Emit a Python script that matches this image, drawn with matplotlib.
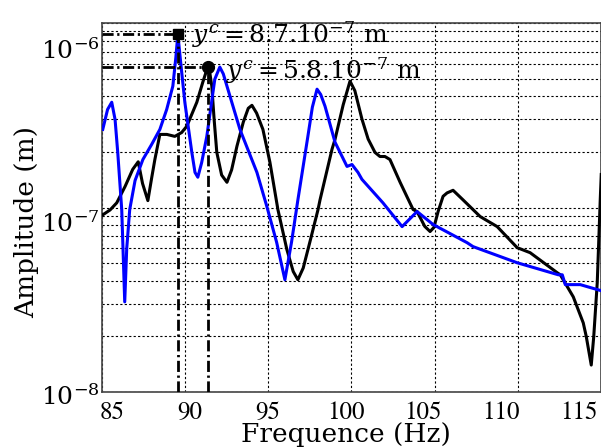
import matplotlib
matplotlib.use('Agg')
import matplotlib.pyplot as plt
from matplotlib.ticker import LogLocator, FixedLocator, NullFormatter, NullLocator

plt.rcParams['font.family'] = ['DejaVu Serif']
plt.rcParams['mathtext.fontset'] = 'stix'

# Black curve
freq_black = [85.0, 85.5, 85.9, 86.4, 86.86, 87.19, 87.45, 87.77, 88.0, 88.19, 88.49, 88.91,
              89.39, 89.8, 90.11, 90.71, 91.07, 91.37, 91.5, 91.61, 91.75, 91.91, 92.2,
              92.52, 92.8, 93.12, 93.5, 93.8, 94.02, 94.3, 94.68, 95.10, 95.58, 96.12,
              96.5, 96.78, 97.1, 97.5, 97.99, 98.11, 98.83, 99.01, 99.5, 99.91, 100.2,
              100.63, 101.0, 101.41, 101.71, 102.01, 102.31, 102.92, 103.70, 103.94,
              104.4, 104.72, 104.95, 105.2, 105.5, 105.74, 106.10, 106.70, 107.73,
              108.75, 109.95, 110.73, 112.36, 112.54, 113.32, 113.92, 114.1, 114.4,
              114.55, 114.76, 114.94, 115.0]
amp_black = [9.05e-8, 9.7e-8, 1.06e-7, 1.3e-7, 1.61e-7, 1.77e-7, 1.35e-7, 1.09e-7, 1.45e-7,
             1.82e-7, 2.49e-7, 2.49e-7, 2.43e-7, 2.55e-7, 2.76e-7, 3.72e-7, 4.78e-7, 5.8e-7,
             5.3e-7, 4.55e-7, 3.0e-7, 1.99e-7, 1.5e-7, 1.37e-7, 1.6e-7, 2.15e-7, 2.9e-7,
             3.45e-7, 3.58e-7, 3.25e-7, 2.65e-7, 1.76e-7, 9.75e-8, 5.91e-8, 4.5e-8, 4.06e-8,
             4.7e-8, 6.5e-8, 9.75e-8, 1.10e-7, 2.07e-7, 2.34e-7, 3.6e-7, 4.84e-7, 4.3e-7,
             3.01e-7, 2.35e-7, 1.99e-7, 1.89e-7, 1.89e-7, 1.82e-7, 1.37e-7, 9.75e-8, 9.51e-8,
             7.9e-8, 7.41e-8, 7.8e-8, 9.5e-8, 1.15e-7, 1.20e-7, 1.24e-7, 1.10e-7, 8.93e-8,
             7.88e-8, 6.06e-8, 5.69e-8, 4.43e-8, 4.32e-8, 3.28e-8, 2.37e-8, 2.0e-8, 1.40e-8,
             2.0e-8, 3.91e-8, 1.10e-7, 1.51e-7]

# Blue curve
freq_blue = [85.06, 85.35, 85.60, 85.8, 85.96, 86.20, 86.38, 86.5, 86.68, 87.0, 87.47, 88.0,
             88.49, 88.9, 89.27, 89.45, 89.57, 89.75, 89.99, 90.41, 90.6, 90.77, 91.0, 91.31,
             91.79, 92.09, 92.3, 92.52, 93.30, 94.32, 94.92, 95.5, 96.00, 96.4, 96.78, 97.38,
             97.65, 97.93, 98.15, 98.41, 99.01, 99.73, 100.03, 100.39, 100.63, 101.89, 103.04,
             103.94, 104.90, 106.94, 107.30, 109.95, 112.42, 112.66, 112.84, 113.74, 115.0]
amp_blue = [2.65e-7, 3.4e-7, 3.72e-7, 3.0e-7, 1.99e-7, 9.75e-8, 3.08e-8, 6.0e-8, 9.75e-8, 1.4e-7,
            1.82e-7, 2.2e-7, 2.65e-7, 3.4e-7, 4.55e-7, 6.5e-7, 8.7e-7, 6.0e-7, 3.72e-7, 1.99e-7,
            1.55e-7, 1.46e-7, 1.75e-7, 2.43e-7, 4.96e-7, 5.77e-7, 5.3e-7, 4.55e-7, 2.65e-7,
            1.55e-7, 1.01e-7, 6.5e-8, 4.06e-8, 6.5e-8, 1.10e-7, 2.43e-7, 3.5e-7, 4.38e-7, 4.1e-7,
            3.54e-7, 2.26e-7, 1.67e-7, 1.71e-7, 1.55e-7, 1.42e-7, 1.06e-7, 7.88e-8, 9.51e-8,
            8.09e-8, 6.45e-8, 6.14e-8, 5.02e-8, 4.32e-8, 4.32e-8, 3.82e-8, 3.82e-8, 3.54e-8]

peak_blue_f, peak_blue_a = 89.57, 8.7e-7
peak_black_f, peak_black_a = 91.37, 5.8e-7
label_blue = r'$y^c = 8.7.10^{-7}$ m'
label_black = r'$y^c = 5.8.10^{-7}$ m'

x_ticks = [85, 90, 95, 100, 105, 110, 115]
x_min, x_max = 85, 115
y_min, y_max = 1e-8, 1e-6

fig = plt.figure(figsize=(6.01, 4.47), dpi=100)
ax = fig.add_axes([0.1693, 0.123, 0.8311, 0.8255])
ax.set_yscale('log')
ax.set_xlim(x_min, x_max)
ax.set_ylim(y_min, y_max)

ax.plot(freq_black, amp_black, color='black', lw=2.2, zorder=3)
ax.plot(freq_blue, amp_blue, color='#0000ff', lw=2.2, zorder=3)

dd = (0, (4, 1.3, 0.8, 1.3))
for f, a in [(peak_blue_f, peak_blue_a), (peak_black_f, peak_black_a)]:
    ax.plot([x_min, f], [a, a], color='black', lw=2, ls=dd, zorder=4)
    ax.plot([f, f], [y_min, a], color='black', lw=2, ls=dd, zorder=4)
ax.plot(peak_blue_f, peak_blue_a, 's', color='black', ms=7.5, zorder=5)
ax.plot(peak_black_f, peak_black_a, 'o', color='black', ms=8.5, zorder=5)

ax.annotate(label_blue, xy=(peak_blue_f, peak_blue_a), xytext=(10, 0),
            textcoords='offset points', va='center', ha='left', fontsize=18,
            math_fontfamily='dejavuserif', zorder=6)
ax.annotate(label_black, xy=(peak_black_f, peak_black_a), xytext=(13, -3),
            textcoords='offset points', va='center', ha='left', fontsize=18,
            math_fontfamily='dejavuserif', zorder=6)

ax.xaxis.set_major_locator(FixedLocator(x_ticks))
ax.yaxis.set_major_locator(LogLocator(base=10, numticks=10))
ax.yaxis.set_minor_locator(LogLocator(base=10, subs=range(2, 10), numticks=20))
ax.yaxis.set_minor_formatter(NullFormatter())

gstyle = dict(color='black', lw=0.8, ls=(0, (2, 2)))
ax.grid(True, which='major', axis='both', **gstyle)
ax.grid(True, which='minor', axis='y', **gstyle)
ax.set_axisbelow(True)
ax.tick_params(which='both', length=0, labelbottom=False, labelleft=False)

for s in ax.spines.values():
    s.set_color('#444444')
    s.set_linewidth(1.2)

# tick labels and axis titles (placed slightly inset, as in the reference)
lab = fig.add_axes([112 / 601, 52 / 447, 467 / 601, 346 / 447])
lab.patch.set_visible(False)
for s in lab.spines.values():
    s.set_visible(False)
lab.set_yscale('log')
lab.set_xlim(x_min, x_max)
lab.set_ylim(y_min, y_max)
lab.xaxis.set_major_locator(FixedLocator(x_ticks))
lab.yaxis.set_major_locator(LogLocator(base=10, numticks=10))
lab.yaxis.set_minor_locator(NullLocator())
lab.tick_params(which='both', length=0)
lab.tick_params(axis='x', pad=4, labelsize=18)
lab.tick_params(axis='y', pad=9, labelsize=18)
for t in lab.get_xticklabels():
    t.set_fontfamily('STIXGeneral')
lab.set_xlabel('Frequence (Hz)', fontsize=19)
lab.set_ylabel('Amplitude (m)', fontsize=19)
lab.xaxis.set_label_coords(0.5, -0.077)
lab.yaxis.set_label_coords(-0.155, 0.5)

fig.savefig('out.png', dpi=100)
